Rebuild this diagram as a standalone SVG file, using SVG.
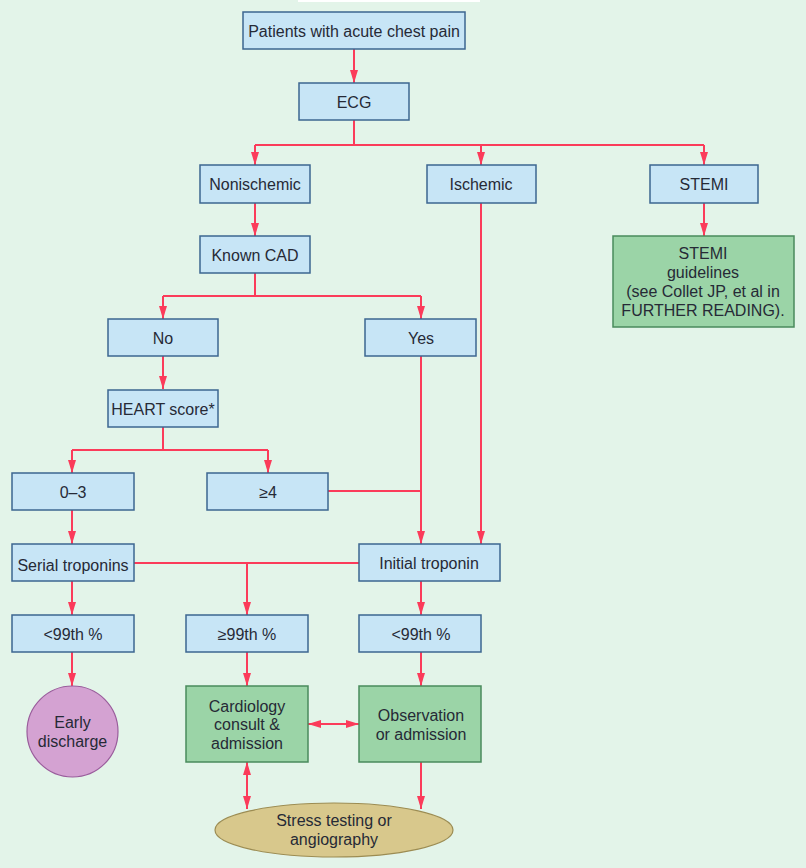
<svg xmlns="http://www.w3.org/2000/svg" width="806" height="868" viewBox="0 0 806 868">
<style>
.bg{fill:#e3f4e9}
.box{fill:#c7e5f6;stroke:#3d6690;stroke-width:1.5}
.gbox{fill:#9bd4a7;stroke:#4a8a5c;stroke-width:1.5}
.t{font-family:"Liberation Sans",Arial,sans-serif;font-size:16px;fill:#262a36;text-anchor:middle;dominant-baseline:central}
.c{fill:none;stroke:#fb3b5a;stroke-width:2}
.a{marker-end:url(#ah)}
.d{marker-start:url(#ah);marker-end:url(#ah)}
</style>
<defs>
<marker id="ah" viewBox="0 0 13 8" refX="13" refY="4" markerWidth="13" markerHeight="8" markerUnits="userSpaceOnUse" orient="auto-start-reverse">
<path d="M0,0 L13,4 L0,8 z" fill="#fb3b5a"/>
</marker>
</defs>
<rect class="bg" x="0" y="0" width="806" height="868"/>
<rect x="298" y="0" width="182" height="2" fill="#ffffff"/>

<g id="connectors">
<path class="c a" d="M354,49 V83"/>
<path class="c" d="M354,120 V145 M255,145 H704"/>
<path class="c a" d="M255,145 V165"/>
<path class="c a" d="M481,145 V165"/>
<path class="c a" d="M704,145 V165"/>
<path class="c a" d="M704,203 V236"/>
<path class="c a" d="M255,203 V236"/>
<path class="c" d="M255,273 V296 M163,296 H421"/>
<path class="c a" d="M163,296 V319"/>
<path class="c a" d="M421,296 V319"/>
<path class="c a" d="M481,203 V544"/>
<path class="c a" d="M163,356 V389"/>
<path class="c" d="M163,427 V450 M72,450 H268"/>
<path class="c a" d="M72,450 V473"/>
<path class="c a" d="M268,450 V473"/>
<path class="c a" d="M421,356 V544"/>
<path class="c" d="M328,491 H421"/>
<path class="c a" d="M72,510 V544"/>
<path class="c" d="M133,563 H359"/>
<path class="c a" d="M247,563 V615"/>
<path class="c a" d="M72,581 V615"/>
<path class="c a" d="M421,581 V615"/>
<path class="c a" d="M72,652 V686"/>
<path class="c a" d="M247,652 V686"/>
<path class="c a" d="M421,652 V686"/>
<path class="c d" d="M308,724 H359"/>
<path class="c d" d="M247,762 V809"/>
<path class="c a" d="M421,762 V809"/>
</g>

<g id="n-patients"><rect class="box" x="243" y="12" width="222" height="37"/><text class="t" x="354" y="31">Patients with acute chest pain</text></g>
<g id="n-ecg"><rect class="box" x="299" y="83" width="110" height="37"/><text class="t" x="354" y="102">ECG</text></g>
<g id="n-nonischemic"><rect class="box" x="200" y="165" width="110" height="38"/><text class="t" x="255" y="184">Nonischemic</text></g>
<g id="n-ischemic"><rect class="box" x="427" y="165" width="109" height="38"/><text class="t" x="481" y="184">Ischemic</text></g>
<g id="n-stemi"><rect class="box" x="650" y="165" width="108" height="38"/><text class="t" x="704" y="184">STEMI</text></g>
<g id="n-stemi-guidelines"><rect class="gbox" x="613" y="236" width="181" height="91"/>
<text class="t" x="703" y="253">STEMI</text><text class="t" x="703" y="272">guidelines</text><text class="t" x="703" y="291">(see Collet JP, et al in</text><text class="t" x="703" y="310">FURTHER READING).</text></g>
<g id="n-knowncad"><rect class="box" x="200" y="236" width="110" height="37"/><text class="t" x="255" y="255">Known CAD</text></g>
<g id="n-no"><rect class="box" x="108" y="319" width="110" height="37"/><text class="t" x="163" y="338">No</text></g>
<g id="n-yes"><rect class="box" x="365" y="319" width="111" height="37"/><text class="t" x="421" y="338">Yes</text></g>
<g id="n-heart"><rect class="box" x="108" y="390" width="110" height="37"/><text class="t" x="163" y="409">HEART score*</text></g>
<g id="n-03"><rect class="box" x="12" y="473" width="122" height="37"/><text class="t" x="73" y="492">0–3</text></g>
<g id="n-ge4"><rect class="box" x="207" y="473" width="121" height="37"/><text class="t" x="268" y="492">≥4</text></g>
<g id="n-serial"><rect class="box" x="12" y="544" width="122" height="37"/><text class="t" x="73" y="565">Serial troponins</text></g>
<g id="n-initial"><rect class="box" x="359" y="544" width="141" height="37"/><text class="t" x="429" y="563">Initial troponin</text></g>
<g id="n-lt99-left"><rect class="box" x="12" y="615" width="122" height="37"/><text class="t" x="73" y="634">&lt;99th %</text></g>
<g id="n-ge99"><rect class="box" x="186" y="615" width="122" height="37"/><text class="t" x="247" y="634">≥99th %</text></g>
<g id="n-lt99-right"><rect class="box" x="359" y="615" width="122" height="37"/><text class="t" x="421" y="634">&lt;99th %</text></g>
<g id="n-early"><circle cx="72.5" cy="731.5" r="45.5" fill="#d4a2d2" stroke="#9a5c9c" stroke-width="1.2"/>
<text class="t" x="72.5" y="722">Early</text><text class="t" x="72.5" y="741">discharge</text></g>
<g id="n-cardiology"><rect class="gbox" x="186" y="686" width="122" height="76"/>
<text class="t" x="247" y="706">Cardiology</text><text class="t" x="247" y="724">consult &amp;</text><text class="t" x="247" y="743">admission</text></g>
<g id="n-observation"><rect class="gbox" x="359" y="686" width="122" height="76"/>
<text class="t" x="421" y="715">Observation</text><text class="t" x="421" y="734">or admission</text></g>
<g id="n-stress"><ellipse cx="334" cy="830" rx="119" ry="27" fill="#d8c88c" stroke="#9c8c52" stroke-width="1.2"/>
<text class="t" x="334" y="820">Stress testing or</text><text class="t" x="334" y="839">angiography</text></g>
</svg>
